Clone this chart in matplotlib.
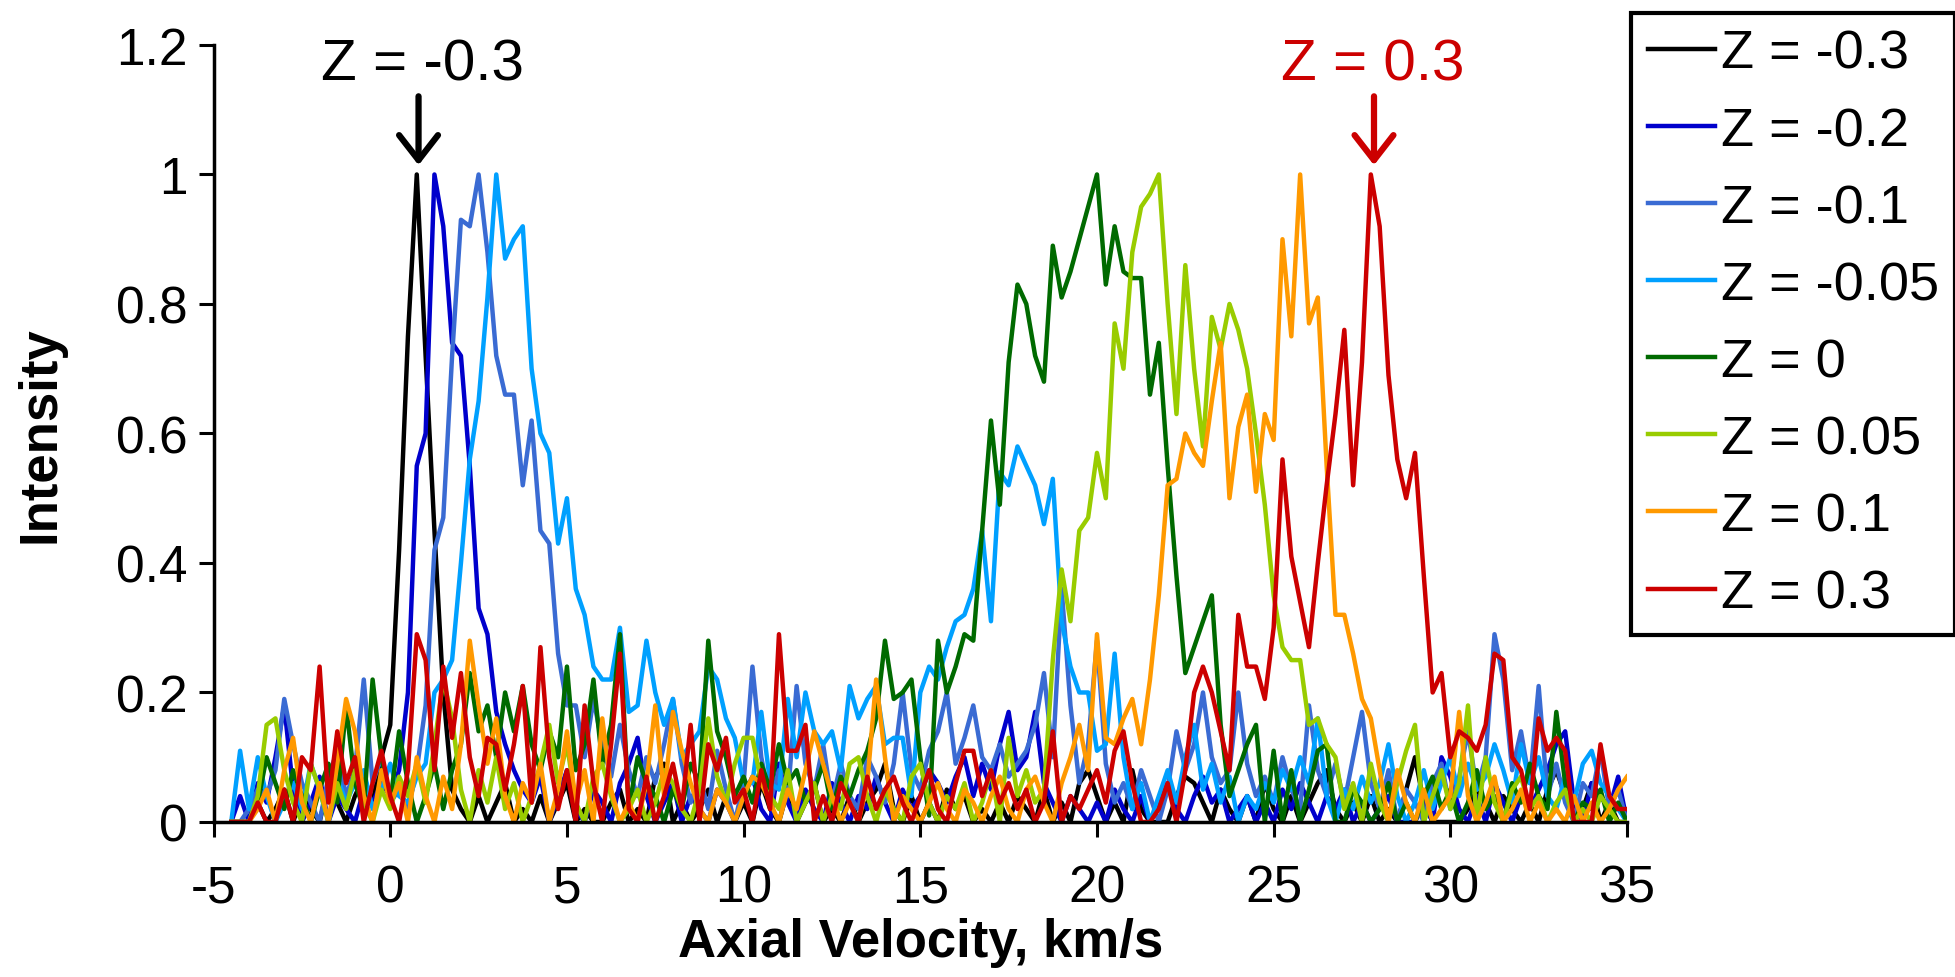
import numpy as np
import matplotlib
matplotlib.use('Agg')
import matplotlib.pyplot as plt

plt.rcParams['font.family'] = ['Liberation Sans', 'DejaVu Sans']
plt.rcParams['axes.unicode_minus'] = False

# velocity grid, km/s (0.25 steps from -4.5 to 35)
velocity = np.round(np.arange(-4.5, 35.01, 0.25), 2)

# intensities x100; one row = 1 km/s
z_m03 = [0, 0,
         0, 3, 0, 2, 5, 0, 4, 2, 0, 6, 3, 0, 4, 7, 3, 10,
         15, 42, 75, 100, 72, 45, 20, 5, 2, 0, 4, 0, 3, 6, 0, 2,
         0, 4, 0, 3, 6, 0, 2, 0, 0, 3, 5, 0, 2, 0, 7, 9,
         0, 3, 0, 2, 5, 0, 4, 0, 3, 0, 6, 2, 0, 5, 0, 3,
         6, 0, 2, 0, 4, 0, 3, 5, 9, 2, 0, 4, 0, 3, 0, 5,
         2, 4, 0, 2, 0, 3, 0, 4, 2, 0, 5, 0, 3, 0, 6, 8,
         4, 0, 3, 0, 8, 2, 0, 0, 0, 4, 7, 6, 3, 0, 5, 2,
         0, 4, 0, 6, 2, 0, 4, 0, 3, 6, 8, 2, 0, 3, 0, 4,
         0, 2, 0, 5, 10, 3, 0, 0, 0, 0, 2, 5, 3, 0, 4, 2,
         0, 3, 0, 5, 8, 4, 0, 2, 6, 0, 3, 0,
         0]
z_m02 = [0, 4,
         0, 6, 3, 10, 18, 5, 0, 3, 7, 0, 4, 2, 0, 5, 3, 6,
         4, 8, 20, 55, 60, 100, 92, 74, 72, 55, 33, 29, 17, 12, 8, 5,
         3, 7, 0, 4, 8, 2, 0, 5, 3, 0, 6, 9, 13, 4, 0, 3,
         6, 0, 4, 2, 0, 5, 3, 0, 4, 7, 2, 0, 9, 3, 0, 5,
         2, 0, 6, 3, 0, 4, 2, 7, 3, 0, 5, 2, 4, 8, 6, 3,
         7, 10, 4, 9, 5, 12, 17, 8, 10, 17, 6, 3, 0, 4, 2, 0,
         3, 0, 5, 2, 0, 4, 0, 3, 6, 2, 0, 4, 7, 3, 5, 0,
         2, 4, 0, 3, 0, 5, 2, 6, 3, 0, 4, 2, 5, 0, 3, 0,
         2, 4, 0, 0, 0, 3, 0, 10, 7, 2, 0, 4, 0, 6, 3, 0,
         4, 2, 5, 8, 12, 14, 3, 0, 6, 4, 2, 7,
         0]
z_m01 = [0, 0,
         2, 5, 4, 8, 19, 12, 6, 3, 0, 7, 11, 4, 8, 22, 6, 10,
         3, 5, 2, 8, 18, 42, 47, 72, 93, 92, 100, 88, 72, 66, 66, 52,
         62, 45, 43, 26, 18, 18, 10, 19, 12, 7, 15, 8, 4, 10, 6, 12,
         19, 9, 3, 7, 2, 11, 5, 0, 6, 24, 10, 3, 8, 4, 21, 9,
         5, 12, 3, 9, 4, 2, 10, 7, 3, 9, 20, 8, 5, 11, 14, 20,
         9, 13, 18, 10, 8, 12, 7, 9, 11, 15, 23, 10, 36, 18, 6, 12,
         28, 9, 3, 6, 2, 8, 4, 0, 5, 14, 8, 12, 20, 10, 6, 8,
         20, 9, 4, 7, 3, 10, 5, 2, 18, 8, 4, 9, 3, 10, 17, 6,
         2, 8, 0, 5, 3, 0, 6, 9, 2, 7, 14, 5, 10, 29, 22, 8,
         14, 6, 21, 4, 9, 3, 0, 6, 4, 11, 2, 5,
         0]
z_m005 = [0, 11,
          2, 10, 4, 0, 3, 6, 2, 9, 5, 0, 7, 3, 6, 8, 2, 5,
          9, 4, 3, 7, 9, 20, 22, 25, 40, 56, 65, 81, 100, 87, 90, 92,
          70, 60, 57, 43, 50, 36, 32, 24, 22, 22, 30, 17, 18, 28, 20, 15,
          19, 10, 12, 14, 24, 22, 16, 13, 6, 6, 17, 6, 5, 19, 10, 20,
          14, 12, 14, 8, 21, 16, 19, 21, 12, 13, 13, 4, 20, 24, 22, 27,
          31, 32, 36, 45, 31, 54, 52, 58, 55, 52, 46, 53, 31, 24, 20, 20,
          11, 12, 26, 10, 2, 6, 0, 4, 8, 3, 10, 15, 5, 9, 3, 7,
          0, 4, 2, 6, 3, 8, 5, 10, 6, 16, 4, 0, 5, 2, 7, 3,
          6, 12, 4, 0, 3, 8, 2, 6, 10, 4, 9, 5, 7, 12, 8, 3,
          12, 6, 10, 4, 2, 7, 3, 9, 11, 6, 4, 2,
          0]
z_0 = [0, 0,
       0, 3, 10, 6, 2, 8, 4, 0, 5, 9, 3, 18, 6, 2, 22, 10,
       3, 14, 6, 0, 4, 9, 2, 8, 12, 23, 14, 18, 10, 20, 14, 21,
       12, 8, 14, 10, 24, 8, 12, 22, 9, 15, 29, 2, 10, 6, 4, 0,
       5, 2, 9, 6, 28, 14, 10, 4, 7, 3, 9, 5, 12, 6, 8, 3,
       5, 9, 2, 7, 4, 8, 11, 16, 28, 19, 20, 22, 10, 1, 28, 20,
       24, 29, 28, 45, 62, 49, 71, 83, 80, 72, 68, 89, 81, 85, 90, 95,
       100, 83, 92, 85, 84, 84, 66, 74, 55, 38, 23, 27, 31, 35, 15, 4,
       8, 12, 15, 0, 11, 0, 8, 0, 5, 11, 12, 0, 0, 5, 3, 0,
       2, 6, 0, 3, 0, 4, 7, 2, 5, 0, 3, 8, 2, 4, 0, 6,
       3, 9, 4, 2, 17, 6, 0, 3, 2, 5, 0, 3,
       0]
z_005 = [0, 0,
         0, 4, 15, 16, 8, 3, 0, 9, 5, 0, 6, 2, 8, 3, 0, 5,
         2, 7, 4, 9, 3, 12, 22, 16, 5, 0, 8, 3, 10, 2, 6, 0,
         4, 9, 15, 6, 12, 3, 0, 7, 9, 4, 0, 2, 5, 0, 3, 8,
         6, 2, 0, 5, 16, 7, 3, 9, 13, 13, 6, 4, 2, 8, 0, 3,
         6, 0, 4, 2, 9, 10, 4, 0, 5, 2, 0, 7, 9, 3, 0, 4,
         2, 6, 0, 3, 8, 0, 13, 4, 8, 3, 5, 25, 39, 31, 45, 47,
         57, 50, 77, 70, 88, 95, 97, 100, 80, 63, 86, 70, 58, 78, 73, 80,
         76, 70, 60, 49, 35, 27, 25, 25, 15, 16, 12, 10, 2, 6, 0, 9,
         3, 0, 6, 11, 15, 0, 4, 8, 2, 6, 18, 0, 10, 3, 0, 5,
         7, 2, 4, 0, 3, 5, 0, 2, 0, 4, 2, 0,
         0]
z_01 = [0, 0,
        0, 2, 5, 0, 8, 13, 3, 0, 6, 0, 9, 19, 14, 4, 0, 8,
        3, 6, 0, 10, 4, 0, 7, 2, 12, 28, 18, 9, 16, 4, 0, 6,
        3, 9, 0, 5, 14, 3, 8, 0, 16, 5, 0, 3, 0, 6, 18, 4,
        17, 11, 6, 2, 0, 5, 3, 0, 4, 7, 6, 3, 0, 5, 2, 8,
        14, 9, 4, 0, 3, 0, 6, 22, 10, 0, 4, 2, 0, 3, 6, 2,
        0, 5, 3, 0, 4, 7, 2, 0, 5, 7, 3, 0, 6, 10, 15, 8,
        29, 13, 12, 16, 19, 12, 22, 35, 52, 53, 60, 57, 55, 65, 74, 50,
        61, 66, 51, 63, 59, 90, 75, 100, 77, 81, 55, 32, 32, 26, 19, 16,
        8, 0, 8, 3, 0, 5, 0, 2, 4, 17, 4, 0, 3, 7, 0, 2,
        5, 0, 3, 0, 2, 0, 4, 0, 3, 0, 2, 5,
        7]
z_03 = [0, 0,
        0, 3, 0, 0, 5, 0, 10, 8, 24, 3, 14, 6, 10, 0, 6, 11,
        4, 0, 8, 29, 25, 8, 24, 13, 23, 10, 4, 13, 12, 5, 12, 21,
        3, 27, 10, 2, 8, 0, 18, 6, 0, 12, 26, 2, 0, 7, 0, 4,
        9, 2, 15, 0, 12, 8, 13, 3, 5, 0, 8, 2, 29, 11, 11, 15,
        0, 4, 0, 6, 3, 0, 7, 2, 5, 7, 3, 0, 4, 8, 2, 0,
        6, 11, 11, 4, 8, 3, 6, 2, 5, 0, 3, 14, 0, 4, 2, 5,
        8, 3, 11, 14, 6, 0, 0, 2, 6, 0, 8, 20, 24, 20, 14, 8,
        32, 24, 24, 19, 30, 56, 41, 34, 27, 40, 52, 63, 76, 52, 71, 100,
        92, 69, 56, 50, 57, 38, 20, 23, 10, 14, 13, 11, 15, 26, 25, 10,
        8, 2, 16, 11, 13, 11, 0, 0, 0, 12, 4, 2,
        2]

labels = ['Z = -0.3', 'Z = -0.2', 'Z = -0.1', 'Z = -0.05',
          'Z = 0', 'Z = 0.05', 'Z = 0.1', 'Z = 0.3']
colors = ['#000000', '#0000CC', '#3A6BD3', '#00A0FF',
          '#006A00', '#99CC00', '#FF9900', '#CC0000']
series = [z_m03, z_m02, z_m01, z_m005, z_0, z_005, z_01, z_03]

x_ticks = [-5, 0, 5, 10, 15, 20, 25, 30, 35]
y_ticks = [0, 0.2, 0.4, 0.6, 0.8, 1.0, 1.2]
y_ticklabels = ['0', '0.2', '0.4', '0.6', '0.8', '1', '1.2']

fig = plt.figure(figsize=(19.56, 9.78), dpi=100)
ax = fig.add_axes([0.1092, 0.1585, 0.7226, 0.7945])

for vals, lab, col in zip(series, labels, colors):
    ax.plot(velocity, np.array(vals) / 100.0, color=col, lw=3.2, label=lab)

ax.set_xlim(-5, 35)
ax.set_ylim(0, 1.2)
ax.set_xticks(x_ticks)
ax.set_yticks(y_ticks)
ax.set_yticklabels(y_ticklabels)
ax.tick_params(axis='x', labelsize=37, length=11, width=2.2, pad=19, direction='out')
ax.tick_params(axis='y', labelsize=37, length=11, width=2.2, pad=8, direction='out')
for s in ['top', 'right']:
    ax.spines[s].set_visible(False)
for s in ['left', 'bottom']:
    ax.spines[s].set_linewidth(2.5)

ax.set_xlabel('Axial Velocity, km/s', fontsize=38, fontweight='bold', labelpad=3)
ax.set_ylabel('Intensity', fontsize=38, fontweight='bold', labelpad=36)

# peak markers
arrow_style = '->,head_length=1.8,head_width=1.4'
ax.annotate('', xy=(0.8, 1.01), xytext=(0.8, 1.125),
            arrowprops=dict(arrowstyle=arrow_style, lw=4.5, color='black'),
            annotation_clip=False)
ax.text(0.9, 1.17, 'Z = -0.3', ha='center', va='center', fontsize=42, color='black')
ax.annotate('', xy=(27.84, 1.01), xytext=(27.84, 1.125),
            arrowprops=dict(arrowstyle=arrow_style, lw=4.5, color='#CC0000'),
            annotation_clip=False)
ax.text(27.8, 1.17, 'Z = 0.3', ha='center', va='center', fontsize=42, color='#CC0000')

leg = ax.legend(loc='upper left', bbox_to_anchor=(0.834, 0.986), bbox_transform=fig.transFigure,
                fontsize=39, frameon=True, fancybox=False, edgecolor='black',
                handlelength=1.25, handletextpad=0.1, labelspacing=0.5,
                borderpad=0.3, borderaxespad=0)
leg.get_frame().set_linewidth(3)
leg.get_frame().set_alpha(1)

fig.savefig('out.png', dpi=100)
